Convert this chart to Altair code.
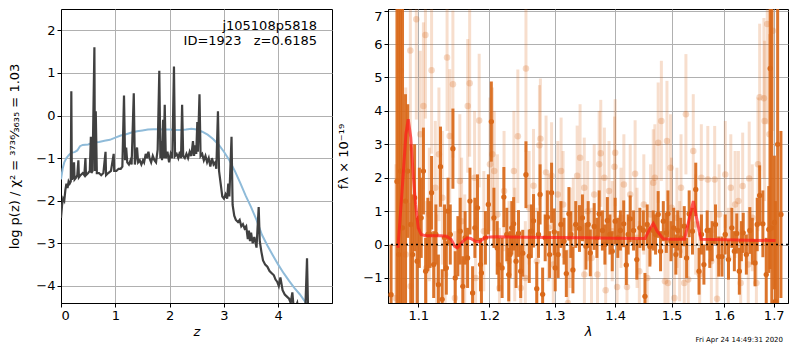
import altair as alt
import pandas as pd

# ---------------- left panel: log p(z) ----------------
pz_z = [0.00, 0.02, 0.04, 0.06, 0.08, 0.10, 0.12, 0.14, 0.16, 0.18, 0.19, 0.20, 0.22, 0.24, 0.25,
        0.28, 0.30, 0.32, 0.33, 0.36, 0.40, 0.43, 0.45, 0.46, 0.50, 0.53, 0.55, 0.56, 0.58, 0.615,
        0.625, 0.64, 0.66, 0.70, 0.74, 0.78, 0.82, 0.83, 0.87, 0.92, 0.97, 0.98, 1.02, 1.06, 1.10,
        1.13, 1.16, 1.18, 1.20, 1.22, 1.25, 1.28, 1.30, 1.34, 1.36, 1.38, 1.40, 1.42, 1.45, 1.48,
        1.51, 1.53, 1.56, 1.58, 1.61, 1.63, 1.66, 1.69, 1.72, 1.75, 1.78, 1.81, 1.83, 1.85, 1.86,
        1.88, 1.89, 1.91, 1.93, 1.96, 1.99, 2.02, 2.05, 2.08, 2.10, 2.13, 2.16, 2.19, 2.21, 2.23,
        2.25, 2.28, 2.31, 2.34, 2.37, 2.40, 2.43, 2.45, 2.47, 2.49, 2.51, 2.52, 2.55, 2.57, 2.60,
        2.63, 2.66, 2.69, 2.72, 2.75, 2.78, 2.81, 2.84, 2.86, 2.89, 2.91, 2.94, 2.97, 3.00, 3.03,
        3.06, 3.08, 3.10, 3.14, 3.16, 3.19, 3.22, 3.26, 3.29, 3.32, 3.35, 3.38, 3.41, 3.44, 3.46,
        3.48, 3.50, 3.53, 3.56, 3.60, 3.64, 3.66, 3.69, 3.72, 3.76, 3.80, 3.84, 3.88, 3.92, 3.95,
        3.98, 4.01, 4.04, 4.08, 4.12, 4.16, 4.20, 4.23, 4.26, 4.28, 4.32, 4.35, 4.37, 4.40, 4.45,
        4.50, 4.53, 4.55]
pz_log = [-2.40, -2.10, -1.95, -2.00, -1.75, -1.60, -1.70, -1.55, -1.60, -1.55, 0.57, -1.50, -1.45, -1.10, -1.50,
          -1.45, -1.40, -1.05, -1.45, -1.40, -1.35, -1.40, -1.00, -1.40, -1.35, -1.30, -0.50, -1.35, -1.30, 1.60,
          -1.30, 0.10, -1.35, -1.35, -1.40, -1.35, -0.85, -1.40, -1.35, -1.30, -0.90, -1.30, -1.30, -1.25, -1.25,
          -1.20, 0.47, -1.05, -0.75, -1.10, -1.15, -1.05, -1.15, 0.52, -1.15, -0.95, -0.75, -1.10, -1.05, -1.15,
          -1.05, -1.10, -0.90, -1.00, -0.85, -1.00, -1.10, -0.95, -1.05, -1.10, -0.80, 1.05, -1.00, -0.60, -1.05,
          -0.10, -1.00, 0.25, -1.00, -0.85, -1.10, -0.90, -1.00, 1.15, -0.95, -0.90, -1.00, -0.85, -1.00, 0.25,
          -0.95, -1.00, -0.90, -1.00, -0.85, -0.95, -0.60, -0.95, -0.70, -0.90, -0.15, -0.85, 0.50, -0.95, -0.90,
          -1.05, -0.95, -1.10, -1.00, -1.20, -1.00, -1.15, -1.10, -1.25, 0.10, -1.30, -1.60, -1.90, -1.95, -1.85,
          -1.95, -1.60, -1.90, -0.50, -2.10, -2.35, -2.45, -2.50, -2.45, -2.60, -2.55, -2.65, -2.60, -2.90, -2.70,
          -2.95, -2.75, -3.00, -2.85, -3.10, -2.15, -2.95, -3.20, -3.40, -3.50, -3.55, -3.65, -3.70, -3.75, -3.85,
          -3.90, -4.00, -3.80, -4.10, -4.20, -4.25, -4.30, -4.40, -4.15, -4.45, -4.50, -4.40, -4.55, -4.50, -4.55,
          -4.50, -3.35, -4.60]

chi_z = [0.00, 0.03, 0.06, 0.10, 0.15, 0.20, 0.25, 0.30, 0.35, 0.40, 0.50, 0.60, 0.70, 0.80, 0.90,
         1.00, 1.10, 1.20, 1.30, 1.40, 1.50, 1.60, 1.70, 1.80, 1.90, 2.00, 2.10, 2.20, 2.30, 2.40,
         2.50, 2.60, 2.70, 2.80, 2.90, 3.00, 3.10, 3.20, 3.30, 3.40, 3.50, 3.60, 3.70, 3.80, 3.90,
         4.00, 4.10, 4.20, 4.30, 4.40, 4.50, 4.55]
chi_log = [-1.50, -1.25, -1.10, -1.00, -0.92, -0.87, -0.86, -0.82, -0.72, -0.69, -0.68, -0.63, -0.62, -0.59, -0.57,
           -0.52, -0.47, -0.44, -0.40, -0.37, -0.35, -0.33, -0.32, -0.32, -0.33, -0.33, -0.34, -0.34, -0.33, -0.31,
           -0.33, -0.38, -0.45, -0.55, -0.68, -0.85, -1.05, -1.30, -1.58, -1.88, -2.15, -2.45, -2.80, -3.05, -3.28,
           -3.50, -3.70, -3.88, -4.05, -4.20, -4.38, -4.46]

left_ticks_x = [0, 1, 2, 3, 4]
left_ticks_y = [-4, -3, -2, -1, 0, 1, 2]
label_lines = ["j105108p5818", "ID=1923\u00a0\u00a0\u00a0z=0.6185"]

# ---------------- right panel: spectrum ----------------
dark_lam = [1.0640, 1.0717, 1.0740, 1.0764, 1.0790, 1.0830, 1.0859, 1.0900, 1.0925, 1.0951, 1.0985, 1.1015,
            1.1040, 1.1070, 1.1100, 1.1130, 1.1160, 1.1181, 1.1210, 1.1240, 1.1275, 1.1304, 1.1327, 1.1360,
            1.1385, 1.1409, 1.1440, 1.1477, 1.1510, 1.1547, 1.1580, 1.1617, 1.1650, 1.1685, 1.1719, 1.1757,
            1.1790, 1.1828, 1.1871, 1.1885, 1.1943, 1.1986, 1.2030, 1.2068, 1.2117, 1.2141, 1.2190, 1.2216,
            1.2260, 1.2289, 1.2309, 1.2335, 1.2363, 1.2400, 1.2437, 1.2470, 1.2502, 1.2551, 1.2602, 1.2635,
            1.2668, 1.2718, 1.2745, 1.2770, 1.2810, 1.2850, 1.2884, 1.2920, 1.2951, 1.2993, 1.3009, 1.3056,
            1.3100, 1.3150, 1.3187, 1.3229, 1.3260, 1.3294, 1.3340, 1.3401, 1.3450, 1.3508, 1.3545, 1.3580,
            1.3645, 1.3690, 1.3728, 1.3783, 1.3825, 1.3867, 1.3910, 1.3950, 1.4000, 1.4045, 1.4090, 1.4147,
            1.4192, 1.4225, 1.4260, 1.4319, 1.4376, 1.4430, 1.4492, 1.4520, 1.4560, 1.4608, 1.4668, 1.4710,
            1.4757, 1.4800, 1.4850, 1.4905, 1.4935, 1.4990, 1.5040, 1.5080, 1.5115, 1.5170, 1.5236, 1.5280,
            1.5328, 1.5390, 1.5452, 1.5514, 1.5560, 1.5607, 1.5670, 1.5720, 1.5766, 1.5830, 1.5892, 1.5957,
            1.6020, 1.6084, 1.6150, 1.6200, 1.6248, 1.6299, 1.6340, 1.6377, 1.6440, 1.6510, 1.6560, 1.6616,
            1.6660, 1.6710, 1.6776, 1.6845, 1.6898, 1.6926, 1.6960, 1.7014, 1.7035, 1.7082, 1.7151]
dark_flux = [-1.50, 1.89, -0.30, 2.20, 0.50, 1.30, 2.20, 0.60, -0.30, 1.40, -0.50, 0.80,
             0.80, 2.20, -0.80, 0.30, 0.30, 1.55, -0.60, 0.30, -1.20, 2.33, -1.64, 0.20,
             -0.70, 1.00, 0.30, 2.87, -1.00, -0.05, 0.40, -1.25, 0.20, -0.40, 1.30, -1.45,
             0.50, 1.10, -0.60, -0.85, 0.20, 1.20, 3.68, 0.80, -0.10, -0.60, -0.70, 1.42,
             0.30, -0.90, -0.30, 0.50, 0.62, -0.50, 0.33, -0.80, -0.26, 2.09, -0.35, 0.40,
             0.71, -1.32, 0.30, 1.50, -1.49, 0.20, 0.82, -0.30, 1.55, 0.38, -0.70, -0.30,
             0.60, 0.10, -0.87, 0.92, 0.30, -0.76, 0.60, 0.48, 0.80, -0.05, 0.60, -0.25,
             0.54, 0.20, 0.92, 0.42, 0.00, 0.72, 0.30, -0.20, 0.70, 0.20, 0.42, 0.62,
             -0.61, 0.30, 0.77, 0.42, -0.45, 0.50, 0.42, -1.55, 0.60, -0.06, 0.42, 0.30,
             0.90, -0.20, 0.70, 0.35, 0.92, 0.10, 0.50, -0.30, 0.42, 0.20, 0.55, -0.40,
             0.92, 0.40, 1.65, -0.80, 0.30, -0.60, 0.42, -0.10, 0.10, 0.60, -0.36, -0.36,
             0.30, -0.45, 0.50, -0.20, 0.33, -0.80, 0.10, 0.35, -0.30, 0.42, 0.10, -0.55,
             0.60, 1.47, 0.62, -0.90, 0.45, 5.27, 0.50, 0.66, -1.70, 3.00, 0.90]
dark_err = [1.50, 9.00, 9.00, 9.00, 9.00, 3.20, 2.00, 2.40, 1.80, 1.60, 1.30, 1.50,
            1.20, 1.30, 1.00, 1.10, 1.00, 1.10, 1.00, 0.90, 0.90, 1.20, 0.90, 1.00,
            0.80, 1.00, 0.90, 1.20, 0.80, 0.90, 1.00, 0.90, 0.80, 0.90, 1.00, 0.80,
            0.90, 1.00, 0.80, 0.90, 0.80, 0.90, 1.20, 0.90, 0.80, 0.80, 0.90, 0.90,
            0.80, 0.80, 0.70, 0.80, 0.80, 0.80, 0.70, 0.80, 0.70, 1.00, 0.80, 0.80,
            0.80, 0.80, 0.70, 0.90, 0.80, 0.70, 0.80, 0.70, 0.90, 0.70, 0.70, 0.70,
            0.70, 0.70, 0.70, 0.80, 0.70, 0.70, 0.70, 0.70, 0.70, 0.70, 0.70, 0.70,
            0.70, 0.60, 0.70, 0.60, 0.60, 0.70, 0.60, 0.60, 0.70, 0.60, 0.60, 0.70,
            0.60, 0.60, 0.70, 0.60, 0.60, 0.60, 0.60, 0.70, 0.60, 0.60, 0.60, 0.60,
            0.70, 0.60, 0.60, 0.60, 0.70, 0.60, 0.60, 0.60, 0.60, 0.60, 0.60, 0.60,
            0.70, 0.70, 0.80, 0.70, 0.60, 0.60, 0.60, 0.60, 0.60, 0.60, 0.60, 0.60,
            0.60, 0.60, 0.60, 0.60, 0.60, 0.70, 0.60, 0.60, 0.60, 0.70, 0.70, 0.70,
            0.80, 0.90, 1.00, 1.10, 1.30, 6.00, 9.00, 2.00, 3.00, 9.00, 2.50]

light_lam = [1.0703, 1.0768, 1.0833, 1.0894, 1.0898, 1.0974, 1.1027, 1.1070, 1.1097, 1.1110, 1.1150, 1.1181,
             1.1232, 1.1250, 1.1282, 1.1330, 1.1368, 1.1395, 1.1432, 1.1477, 1.1505, 1.1575, 1.1600, 1.1645,
             1.1687, 1.1715, 1.1786, 1.1800, 1.1852, 1.1920, 1.2010, 1.2045, 1.2073, 1.2120, 1.2150, 1.2219,
             1.2293, 1.2367, 1.2380, 1.2427, 1.2472, 1.2541, 1.2551, 1.2600, 1.2668, 1.2720, 1.2760, 1.2775,
             1.2864, 1.2900, 1.2951, 1.2978, 1.3050, 1.3103, 1.3135, 1.3213, 1.3250, 1.3300, 1.3363, 1.3411,
             1.3480, 1.3482, 1.3536, 1.3600, 1.3645, 1.3700, 1.3728, 1.3755, 1.3816, 1.3838, 1.3895, 1.3950,
             1.3988, 1.4000, 1.4033, 1.4100, 1.4150, 1.4204, 1.4260, 1.4346, 1.4380, 1.4420, 1.4500, 1.4560,
             1.4620, 1.4668, 1.4697, 1.4757, 1.4815, 1.4880, 1.4917, 1.4935, 1.4982, 1.5000, 1.5054, 1.5100,
             1.5150, 1.5176, 1.5236, 1.5267, 1.5310, 1.5405, 1.5450, 1.5527, 1.5558, 1.5682, 1.5750, 1.5814,
             1.5860, 1.5900, 1.6021, 1.6080, 1.6130, 1.6215, 1.6280, 1.6326, 1.6366, 1.6478, 1.6497, 1.6560,
             1.6643, 1.6675, 1.6710, 1.6797, 1.6811, 1.6866, 1.6912, 1.6980]
light_flux = [-1.60, 5.20, -0.30, 5.81, -1.25, 6.74, 3.30, 4.15, 6.27, -0.70, 0.90, 5.22,
              1.70, -1.10, 2.70, 1.40, -0.90, 5.60, 3.25, 4.80, -1.60, 1.90, 0.70, -0.50,
              4.15, 4.83, 2.00, -1.00, 3.71, 0.40, 2.40, 2.70, 2.20, 0.90, -1.30, 1.60,
              -0.50, 2.20, 0.00, 3.24, -1.30, -1.00, 5.27, 1.10, 1.76, -0.50, 2.97, 3.17,
              2.16, 0.50, 2.06, -0.60, 1.50, 2.20, 1.20, -1.75, 0.20, 0.50, 2.06, 2.60,
              1.70, -0.90, 1.00, -0.40, 1.50, -0.90, 2.40, 2.73, 2.00, -1.37, 1.60, 0.40,
              2.33, 2.75, -1.27, 0.80, 1.80, -1.27, 1.50, 2.12, 0.20, -0.80, 1.20, -1.00,
              0.90, 1.85, 2.00, 3.05, 3.70, -1.10, 3.10, -1.15, 2.30, 1.10, -1.60, 0.80,
              -0.20, 1.70, -1.15, 3.90, -1.05, 2.80, 0.60, -0.90, 2.00, 1.95, -0.50, 1.95,
              -1.62, 0.90, 2.10, -0.40, 1.70, 1.20, 1.30, -1.15, 1.75, -0.60, 1.98, 0.80,
              -1.15, 2.40, 4.41, 4.38, 3.70, 6.60, 3.30, 6.40]
light_err = [4.00, 4.00, 5.00, 3.00, 2.50, 3.00, 2.50, 2.50, 2.50, 2.00, 2.00, 2.50,
             2.00, 2.00, 2.00, 2.00, 2.00, 2.20, 2.00, 2.20, 2.00, 2.00, 1.90, 2.00,
             2.00, 2.20, 2.00, 1.80, 2.00, 1.80, 2.00, 2.00, 1.80, 1.80, 1.80, 1.80,
             1.80, 1.80, 1.70, 2.00, 1.70, 1.70, 2.50, 1.70, 1.70, 1.60, 1.80, 1.80,
             1.70, 1.60, 1.60, 1.60, 1.60, 1.60, 1.60, 1.60, 1.50, 1.50, 1.50, 1.60,
             1.50, 1.50, 1.50, 1.50, 1.50, 1.50, 1.60, 1.60, 1.50, 1.50, 1.50, 1.50,
             1.50, 1.60, 1.50, 1.50, 1.50, 1.50, 1.50, 1.60, 1.50, 1.50, 1.50, 1.50,
             1.50, 1.60, 1.60, 1.80, 1.80, 1.60, 1.80, 1.60, 1.60, 1.50, 1.60, 1.50,
             1.50, 1.60, 1.60, 1.80, 1.60, 1.70, 1.50, 1.60, 1.60, 1.60, 1.50, 1.60,
             1.60, 1.50, 1.60, 1.50, 1.60, 1.60, 1.50, 1.60, 1.60, 1.60, 1.70, 1.60,
             1.80, 2.00, 2.20, 2.40, 2.40, 3.00, 3.00, 3.00]

model_lam = [1.0730, 1.0790, 1.0835, 1.0866, 1.0900, 1.0935, 1.0964, 1.1000, 1.1040, 1.1100, 1.1200, 1.1300,
             1.1388, 1.1453, 1.1500, 1.1536, 1.1580, 1.1620, 1.1680, 1.1730, 1.1800, 1.1855, 1.1900, 1.1945,
             1.2100, 1.2500, 1.3000, 1.3500, 1.4000, 1.4522, 1.4600, 1.4669, 1.4740, 1.4847, 1.5000, 1.5241,
             1.5320, 1.5406, 1.5480, 1.5549, 1.6000, 1.6500, 1.7038]
model_flux = [-0.10, 1.80, 3.30, 3.75, 3.20, 2.00, 1.20, 0.50, 0.30, 0.26, 0.26, 0.26,
              0.25, 0.15, -0.05, -0.10, 0.00, 0.10, 0.20, 0.18, 0.10, 0.08, 0.15, 0.22,
              0.23, 0.22, 0.21, 0.20, 0.19, 0.18, 0.45, 0.63, 0.40, 0.17, 0.16, 0.16,
              0.70, 1.30, 0.70, 0.16, 0.14, 0.13, 0.12]

right_ticks_x = [1.1, 1.2, 1.3, 1.4, 1.5, 1.6, 1.7]
right_ticks_y = [-1, 0, 1, 2, 3, 4, 5, 6, 7]
timestamp = ["Fri Apr 24 14:49:31 2020"]

FONT = "DejaVu Sans"
ORANGE = "#d9691a"
PLOT_H = 294

# ---------------- build left chart ----------------
pz_df = pd.DataFrame({"z": pz_z, "v": pz_log})
chi_df = pd.DataFrame({"z": chi_z, "v": chi_log})
xl = alt.X("z:Q", scale=alt.Scale(domain=[0, 4.99], nice=False),
           axis=alt.Axis(values=left_ticks_x, title="z", titleFontStyle="italic", format="d",
                         titlePadding=3))
yl = alt.Y("v:Q", scale=alt.Scale(domain=[-4.4, 2.5], nice=False),
           axis=alt.Axis(values=left_ticks_y, format="d",
                         title="log p(z) / χ² = ³⁷³⁶⁄₃₆₃₅ = 1.03", titlePadding=14))

blue = alt.Chart(chi_df).mark_line(color="#8fbbd9", strokeWidth=2, clip=True).encode(x=xl, y=yl)
dark = alt.Chart(pz_df).mark_line(color="#404040", strokeWidth=2.2, clip=True).encode(x=xl, y=yl)


def label(i, ypix):
    return alt.Chart(pd.DataFrame({"t": [label_lines[i]]})).mark_text(
        align="right", baseline="middle", font=FONT, fontSize=13, color="black").encode(
        x=alt.value(256), y=alt.value(ypix), text="t:N")


left = alt.layer(blue, dark, label(0, 17), label(1, 32)).properties(width=271, height=PLOT_H)

# ---------------- build right chart ----------------
dark_df = pd.DataFrame({"lam": dark_lam, "f": dark_flux, "e": dark_err})
light_df = pd.DataFrame({"lam": light_lam, "f": light_flux, "e": light_err})
model_df = pd.DataFrame({"lam": model_lam, "f": model_flux})

xsc = alt.Scale(type="log", domain=[1.06, 1.73], nice=False)
ysc = alt.Scale(domain=[-1.75, 7.05], nice=False)
yaxis = alt.Axis(values=right_ticks_y, format="d", title="fλ × 10⁻¹⁹", titlePadding=12,
                 labelFlush=4)
xr = alt.X("lam:Q", scale=xsc, axis=alt.Axis(values=right_ticks_x, format=".1f", title="λ",
                                             titleFontStyle="italic", titlePadding=3))
yr = alt.Y("f:Q", scale=ysc, axis=yaxis)


def bars(df, opacity, width):
    return alt.Chart(df).transform_calculate(lo="datum.f - datum.e", hi="datum.f + datum.e").mark_rule(
        color=ORANGE, opacity=opacity, strokeWidth=width, clip=True).encode(
        x=xr, y=alt.Y("lo:Q", scale=ysc, axis=yaxis), y2="hi:Q")


light_bars = bars(light_df, 0.22, 3)
light_pts = alt.Chart(light_df).mark_circle(color=ORANGE, opacity=0.25, size=42, clip=True).encode(x=xr, y=yr)
dark_bars = bars(dark_df, 0.92, 3)
dark_pts = alt.Chart(dark_df).mark_circle(color=ORANGE, opacity=1, size=28, clip=True).encode(x=xr, y=yr)
model = alt.Chart(model_df).mark_line(color="#ff1a1a", opacity=0.7, strokeWidth=3, clip=True).encode(x=xr, y=yr)
zero = alt.Chart(pd.DataFrame({"f": [0]})).mark_rule(color="black", strokeDash=[2, 3], strokeWidth=1.6).encode(y=yr)
stamp = alt.Chart(pd.DataFrame({"t": timestamp})).mark_text(
    align="right", baseline="middle", font=FONT, fontSize=7, color="black").encode(
    x=alt.value(395), y=alt.value(331), text="t:N")

right = alt.layer(light_bars, light_pts, dark_bars, dark_pts, model, zero, stamp).properties(
    width=400, height=PLOT_H)

chart = alt.hconcat(left, right, spacing=4).properties(padding=0).configure(
    font=FONT).configure_view(stroke="black", strokeWidth=1).configure_axis(
    grid=True, gridColor="#b0b0b0", gridWidth=1, domainColor="black", tickColor="black",
    tickSize=4, labelFontSize=13, titleFontSize=13, labelFont=FONT, titleFont=FONT,
    labelColor="black", titleColor="black", titleFontWeight="normal", labelPadding=2)

chart.save("out.html", embed_options={"renderer": "svg", "actions": False})
